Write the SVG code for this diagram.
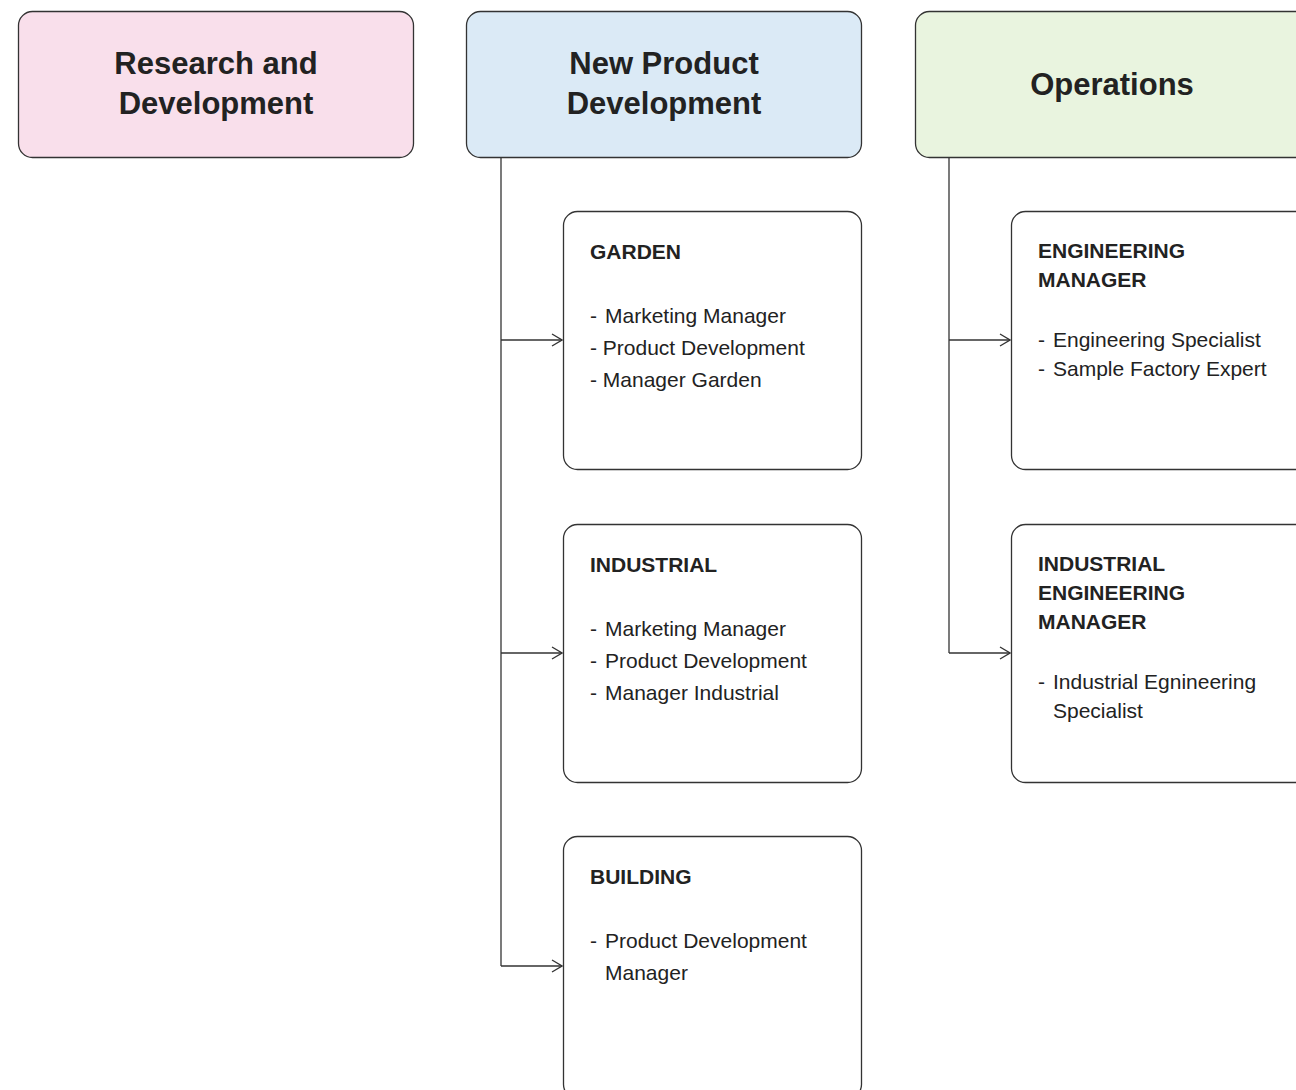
<svg xmlns="http://www.w3.org/2000/svg" width="1296" height="1090" viewBox="0 0 1296 1090">
<defs>
<style>
.box{stroke:#333;stroke-width:1.3}
.sub{fill:#fff;stroke:#333;stroke-width:1.3}
.title{font-family:"Liberation Sans",Arial,sans-serif;font-weight:bold;font-size:31px;fill:#222;text-anchor:middle}
.head{font-family:"Liberation Sans",Arial,sans-serif;font-weight:bold;font-size:21px;fill:#222}
.body{font-family:"Liberation Sans",Arial,sans-serif;font-size:21px;fill:#222}
.conn{fill:none;stroke:#333;stroke-width:1.3}
</style>
<marker id="arr" viewBox="0 0 12 14" refX="11" refY="7" markerWidth="12" markerHeight="14" markerUnits="userSpaceOnUse" orient="auto">
<path d="M1,1 L11,7 L1,13" fill="none" stroke="#333" stroke-width="1.3"/>
</marker>
</defs>
<rect width="1296" height="1090" fill="#fff"/>
<g id="connectors">
<path class="conn" d="M501,157 V966"/>
<path class="conn" d="M501,340 H562" marker-end="url(#arr)"/>
<path class="conn" d="M501,653 H562" marker-end="url(#arr)"/>
<path class="conn" d="M501,966 H562" marker-end="url(#arr)"/>
<path class="conn" d="M949,157 V653"/>
<path class="conn" d="M949,340 H1010" marker-end="url(#arr)"/>
<path class="conn" d="M949,653 H1010" marker-end="url(#arr)"/>
</g>
<g id="rnd">
<rect class="box" x="18.5" y="11.5" width="395" height="146" rx="14" fill="#f9dfeb"/>
<text class="title" x="216" y="74">Research and</text>
<text class="title" x="216" y="114">Development</text>
</g>
<g id="npd">
<rect class="box" x="466.5" y="11.5" width="395" height="146" rx="14" fill="#dbeaf6"/>
<text class="title" x="664" y="74">New Product</text>
<text class="title" x="664" y="114">Development</text>
</g>
<g id="ops">
<rect class="box" x="915.5" y="11.5" width="395" height="146" rx="14" fill="#e9f4df"/>
<text class="title" x="1112" y="95">Operations</text>
</g>
<g id="garden">
<rect class="sub" x="563.5" y="211.5" width="298" height="258" rx="14"/>
<text class="head" x="590" y="259">GARDEN</text>
<text class="body" x="590" y="323">-<tspan x="605">Marketing Manager</tspan></text>
<text class="body" x="590" y="355">- Product Development</text>
<text class="body" x="590" y="387">- Manager Garden</text>
</g>
<g id="industrial">
<rect class="sub" x="563.5" y="524.5" width="298" height="258" rx="14"/>
<text class="head" x="590" y="572">INDUSTRIAL</text>
<text class="body" x="590" y="636">-<tspan x="605">Marketing Manager</tspan></text>
<text class="body" x="590" y="668">-<tspan x="605">Product Development</tspan></text>
<text class="body" x="590" y="700">-<tspan x="605">Manager Industrial</tspan></text>
</g>
<g id="building">
<rect class="sub" x="563.5" y="836.5" width="298" height="262" rx="14"/>
<text class="head" x="590" y="884">BUILDING</text>
<text class="body" x="590" y="948">-<tspan x="605">Product Development</tspan></text>
<text class="body" x="605" y="980">Manager</text>
</g>
<g id="eng-manager">
<rect class="sub" x="1011.5" y="211.5" width="300" height="258" rx="14"/>
<text class="head" x="1038" y="258">ENGINEERING</text>
<text class="head" x="1038" y="287">MANAGER</text>
<text class="body" x="1038" y="347">-<tspan x="1053">Engineering Specialist</tspan></text>
<text class="body" x="1038" y="376">-<tspan x="1053">Sample Factory Expert</tspan></text>
</g>
<g id="ind-eng-manager">
<rect class="sub" x="1011.5" y="524.5" width="300" height="258" rx="14"/>
<text class="head" x="1038" y="571">INDUSTRIAL</text>
<text class="head" x="1038" y="600">ENGINEERING</text>
<text class="head" x="1038" y="629">MANAGER</text>
<text class="body" x="1038" y="689">-<tspan x="1053">Industrial Egnineering</tspan></text>
<text class="body" x="1053" y="718">Specialist</text>
</g>
</svg>
